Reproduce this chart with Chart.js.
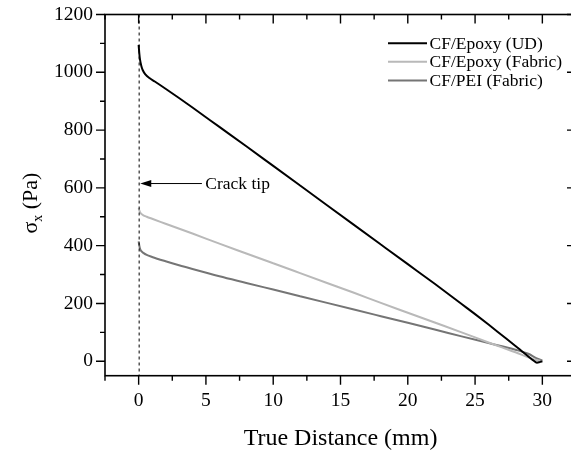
<!DOCTYPE html>
<html><head><meta charset="utf-8">
<script src="https://cdn.jsdelivr.net/npm/chart.js@4/dist/chart.umd.min.js"></script>
<style>
html,body{margin:0;padding:0;background:#fff;overflow:hidden;width:571px;height:452px}
#wrap{position:absolute;left:0;top:0;width:590px;height:452px}
</style>
</head><body><div id="wrap"><canvas id="c" width="590" height="452"></canvas></div>
<script>
// ---- data ----
const seriesNames = ['CF/Epoxy (UD)', 'CF/Epoxy (Fabric)', 'CF/PEI (Fabric)'];
const udX = [0, 0.05, 0.1, 0.2, 0.3, 0.5, 0.8, 1.2, 2, 3, 4, 6, 8, 10, 12, 14, 16, 18, 20, 22, 24, 25, 26, 27, 28, 28.5, 29, 29.3, 29.6, 29.8, 30];
const udY = [1095, 1065, 1045, 1022, 1008, 993, 980, 968, 943, 911, 878, 811, 744, 676, 608, 540, 472, 404, 336, 268, 198, 163, 127, 90, 53, 34, 15, 4, -5, -3, 0];
const epFabX = [0, 0.05, 0.1, 0.2, 0.35, 0.6, 1, 2, 4, 6, 8, 10, 12, 14, 16, 18, 20, 22, 24, 26, 27, 28, 29, 29.5, 30];
const epFabY = [530, 522, 516, 510, 505, 500, 493, 476, 442, 407, 373, 339, 305, 271, 237, 202, 168, 134, 100, 65, 48, 31, 13, 5, 0];
const peiX = [0, 0.05, 0.1, 0.2, 0.35, 0.6, 1, 2, 3, 4, 6, 8, 10, 12, 14, 16, 18, 20, 22, 24, 26, 28, 29, 29.5, 30];
const peiY = [415, 400, 390, 381, 375, 368, 361, 346, 332, 319, 294, 271, 248, 225, 202, 179, 156, 133, 110, 86, 63, 40, 25, 12, 2];
const xTicks = [0, 5, 10, 15, 20, 25, 30];
const xMinor = [-2.5, 2.5, 7.5, 12.5, 17.5, 22.5, 27.5, 32.5];
const yTicks = [0, 200, 400, 600, 800, 1000, 1200];
const yMinor = [100, 300, 500, 700, 900, 1100];
const crackTipLabel = 'Crack tip';
const crackTipArrow = {x0: 4.7, x1: 0.12, y: 615, textX: 4.95};

const FONT = "'Liberation Serif', 'Times New Roman', serif";
const colors = ['#000000', '#b9b9b9', '#757575'];

function pts(xs, ys) { return xs.map((x, i) => ({x: x, y: ys[i]})); }

const decor = {
  id: 'decor',
  afterDatasetsDraw(chart) {
    const ctx = chart.ctx, a = chart.chartArea;
    const xs = chart.scales.x, ys = chart.scales.y;
    ctx.save();
    // dashed crack line
    const x0 = xs.getPixelForValue(0);
    ctx.strokeStyle = '#000'; ctx.lineWidth = 1; ctx.setLineDash([3, 3]);
    ctx.beginPath(); ctx.moveTo(x0 + 0.5, a.top); ctx.lineTo(x0 + 0.5, a.bottom); ctx.stroke();
    ctx.setLineDash([]);
    // arrow
    const ay = ys.getPixelForValue(crackTipArrow.y);
    const ax0 = xs.getPixelForValue(crackTipArrow.x0), ax1 = xs.getPixelForValue(crackTipArrow.x1);
    ctx.beginPath(); ctx.moveTo(ax0, ay); ctx.lineTo(ax1 + 8, ay); ctx.stroke();
    ctx.fillStyle = '#000';
    ctx.beginPath(); ctx.moveTo(ax1, ay); ctx.lineTo(ax1 + 11, ay - 3.5); ctx.lineTo(ax1 + 11, ay + 3.5); ctx.closePath(); ctx.fill();
    ctx.font = '17.5px ' + FONT; ctx.textBaseline = 'middle'; ctx.textAlign = 'left';
    ctx.fillText(crackTipLabel, xs.getPixelForValue(crackTipArrow.textX), ay + 1);
    // frame
    ctx.lineWidth = 1.6; ctx.strokeStyle = '#000';
    ctx.strokeRect(a.left, a.top, a.right - a.left, a.bottom - a.top);
    // ticks
    ctx.lineWidth = 1.4;
    ctx.beginPath();
    xTicks.forEach(v => { const p = xs.getPixelForValue(v);
      ctx.moveTo(p, a.bottom); ctx.lineTo(p, a.bottom + 9);
      ctx.moveTo(p, a.top); ctx.lineTo(p, a.top + 9); });
    xMinor.forEach(v => { const p = xs.getPixelForValue(v);
      ctx.moveTo(p, a.bottom); ctx.lineTo(p, a.bottom + 5);
      ctx.moveTo(p, a.top); ctx.lineTo(p, a.top + 5); });
    yTicks.forEach(v => { const p = ys.getPixelForValue(v);
      ctx.moveTo(a.left, p); ctx.lineTo(a.left - 9, p);
      ctx.moveTo(a.right, p); ctx.lineTo(a.right - 9, p); });
    yMinor.forEach(v => { const p = ys.getPixelForValue(v);
      ctx.moveTo(a.left, p); ctx.lineTo(a.left - 5, p);
      ctx.moveTo(a.right, p); ctx.lineTo(a.right - 5, p); });
    ctx.stroke();
    // legend
    const rows = [43.3, 61.8, 80.5];
    chart.data.datasets.forEach((ds, i) => {
      ctx.strokeStyle = ds.borderColor; ctx.lineWidth = 2;
      ctx.beginPath(); ctx.moveTo(388, rows[i]); ctx.lineTo(427, rows[i]); ctx.stroke();
      ctx.fillStyle = '#000'; ctx.font = '17.5px ' + FONT; ctx.textBaseline = 'middle';
      ctx.fillText(ds.label, 429.5, rows[i] + 1);
    });
    // y title with subscript
    ctx.translate(30, (a.top + a.bottom) / 2 + 8);
    ctx.rotate(-Math.PI / 2);
    ctx.fillStyle = '#000'; ctx.textBaseline = 'alphabetic';
    const big = '22px ' + FONT, small = '14px ' + FONT;
    ctx.font = big; const wS = ctx.measureText('σ').width;
    ctx.font = small; const wX = ctx.measureText('x').width;
    ctx.font = big; const wR = ctx.measureText(' (Pa)').width;
    let sx = -(wS + wX + wR) / 2;
    ctx.font = big; ctx.fillText('σ', sx, 7); sx += wS;
    ctx.font = small; ctx.fillText('x', sx, 12); sx += wX;
    ctx.font = big; ctx.fillText(' (Pa)', sx, 7);
    ctx.restore();
  }
};

new Chart(document.getElementById('c'), {
  type: 'scatter',
  data: {
    datasets: [
      {label: seriesNames[0], data: pts(udX, udY), borderColor: colors[0]},
      {label: seriesNames[1], data: pts(epFabX, epFabY), borderColor: colors[1]},
      {label: seriesNames[2], data: pts(peiX, peiY), borderColor: colors[2]}
    ].map(d => Object.assign(d, {showLine: true, pointRadius: 0, borderWidth: 2, cubicInterpolationMode: 'monotone', fill: false}))
  },
  options: {
    responsive: false, animation: false, devicePixelRatio: 1,
    layout: {padding: {left: 0, top: 14.5, right: 14, bottom: 0}},
    plugins: {legend: {display: false}, tooltip: {enabled: false}},
    scales: {
      x: {
        type: 'linear', min: -2.5, max: 32.5,
        afterBuildTicks: s => { s.ticks = xTicks.map(v => ({value: v})); },
        afterFit: s => { s.height = 76.3; s.paddingLeft = 0; s.paddingRight = 0; },
        grid: {display: false, drawTicks: false}, border: {display: false},
        ticks: {font: {family: FONT, size: 19.5}, color: '#000', padding: 13, maxRotation: 0, autoSkip: false, callback: v => String(v)},
        title: {display: true, text: 'True Distance (mm)', color: '#000', font: {family: FONT, size: 24, lineHeight: 1}, padding: {top: 0, bottom: 1}}
      },
      y: {
        type: 'linear', min: -50, max: 1200,
        afterBuildTicks: s => { s.ticks = yTicks.map(v => ({value: v})); },
        afterFit: s => { s.width = 105; s.paddingTop = 0; s.paddingBottom = 0; },
        grid: {display: false, drawTicks: false}, border: {display: false},
        ticks: {font: {family: FONT, size: 19.5}, color: '#000', padding: 12, autoSkip: false, callback: v => String(v)}
      }
    }
  },
  plugins: [decor]
});
</script>
</body></html>
